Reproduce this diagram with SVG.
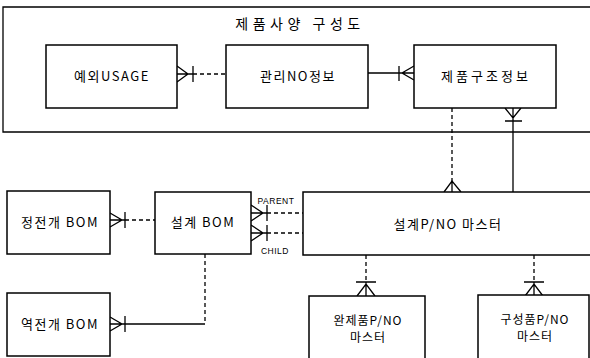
<svg xmlns="http://www.w3.org/2000/svg" width="590" height="358" viewBox="0 0 590 358">
<style>
.box{fill:#fff;stroke:#000;stroke-width:1.5}
.ln{fill:none;stroke:#000;stroke-width:1.3}
.ds{fill:none;stroke:#000;stroke-width:1.3;stroke-dasharray:4,3}
text{font-family:"Noto Sans CJK KR","Noto Sans",sans-serif;font-size:13px;fill:#000;text-anchor:middle;letter-spacing:1.5px}
.lbl{font-family:"Liberation Sans",Arial,sans-serif;font-size:8.5px;letter-spacing:0.5px}
.two{font-size:12px;letter-spacing:1px}
</style>
<rect width="590" height="358" fill="#fff"/>
<g id="frame">
<path class="ln" d="M590,7 H3 V132 H590" stroke-width="1.5"/>
<text x="300" y="29" style="font-size:14px;letter-spacing:4.5px">제품사양 구성도</text>
</g>
<g id="connectors">
<path class="ln" d="M177,74 H193 M177,66 L188,74 L177,82 M193,66 V82"/>
<path class="ds" d="M193,74 H226"/>
<path class="ln" d="M368,73 H414 M399,66 V81 M414,66 L402,73 L414,80"/>
<path class="ds" d="M452,108 V184"/>
<path class="ln" d="M452,182 V192 M444,192 L452,181 L461,192"/>
<path class="ln" d="M513,108 V192 M505,108 L513,118 L521,108 M505,121 H522"/>
<path class="ln" d="M110,220 H125 M110,213 L122,220 L110,227 M125,212 V228"/>
<path class="ds" d="M125,220 H155"/>
<path class="ds" d="M205,254 V324"/>
<path class="ln" d="M205,324 H110 M110,317 L122,324 L110,331 M125,316 V332"/>
<path class="ln" d="M251,213 H267 M251,205 L263,213 L251,221 M267,205 V221"/>
<path class="ds" d="M267,213 H303"/>
<path class="ln" d="M251,233 H267 M251,225 L263,233 L251,241 M267,225 V241"/>
<path class="ds" d="M267,233 H303"/>
<path class="ds" d="M366,255 V282"/>
<path class="ln" d="M366,282 V296 M356,282 H376 M357,296 L366,284 L375,296"/>
<path class="ds" d="M534,255 V282"/>
<path class="ln" d="M534,282 V296 M524,282 H544 M525,296 L534,284 L543,296"/>
<text class="lbl" x="276" y="204">PARENT</text>
<text class="lbl" x="275" y="254">CHILD</text>
</g>
<g id="usage">
<rect class="box" x="46" y="45" width="131" height="63"/>
<text x="112" y="81">예외USAGE</text>
</g>
<g id="mgmt">
<rect class="box" x="226" y="45" width="142" height="63"/>
<text x="298" y="81">관리NO정보</text>
</g>
<g id="struct">
<rect class="box" x="414" y="45" width="142" height="63"/>
<text x="486" y="81" style="letter-spacing:3px">제품구조정보</text>
</g>
<g id="fwd">
<rect class="box" x="7" y="191" width="103" height="63"/>
<text x="60" y="227">정전개 BOM</text>
</g>
<g id="design">
<rect class="box" x="155" y="192" width="96" height="62"/>
<text x="203" y="227">설계 BOM</text>
</g>
<g id="rev">
<rect class="box" x="7" y="293" width="103" height="63"/>
<text x="60" y="329">역전개 BOM</text>
</g>
<g id="master">
<path class="box" d="M590,192 H303 V255 H590"/>
<text x="448" y="229">설계P/NO 마스터</text>
</g>
<g id="finished">
<rect class="box" x="309" y="296" width="116" height="80"/>
<text class="two" x="368" y="325">완제품P/NO</text>
<text class="two" x="368" y="342">마스터</text>
</g>
<g id="component">
<rect class="box" x="478" y="295" width="111" height="80"/>
<text class="two" x="535" y="324">구성품P/NO</text>
<text class="two" x="535" y="341">마스터</text>
</g>
</svg>
